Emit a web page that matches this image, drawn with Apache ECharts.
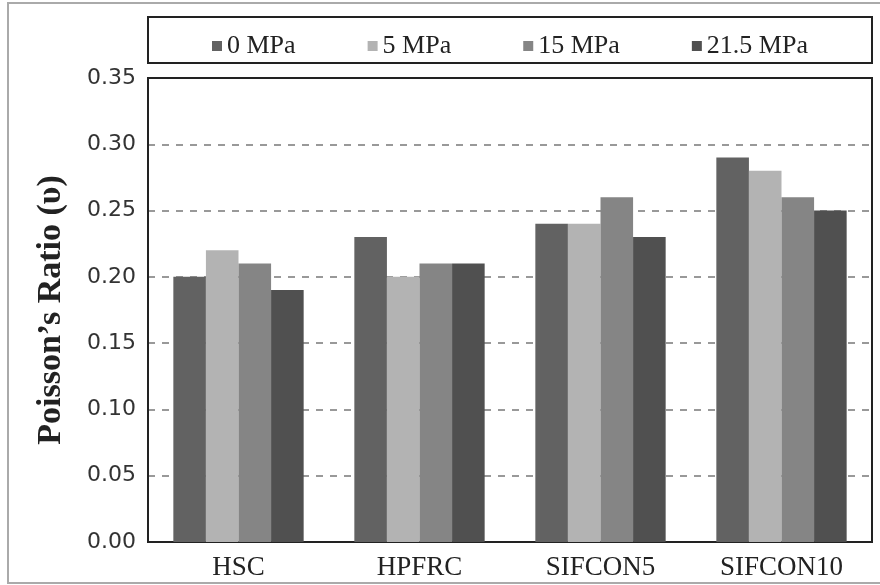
<!DOCTYPE html>
<html>
<head>
<meta charset="utf-8">
<script src="https://cdn.jsdelivr.net/npm/echarts@6/dist/echarts.min.js"></script>
<style>
  html, body { margin: 0; padding: 0; background: #fff; }
  #chart { width: 880px; height: 585px; }
</style>
</head>
<body>
<div id="chart"></div>
<script>
var categories = ['HSC', 'HPFRC', 'SIFCON5', 'SIFCON10'];
var seriesNames = ['0 MPa', '5 MPa', '15 MPa', '21.5 MPa'];
var mpa0 = [0.20, 0.23, 0.24, 0.29];
var mpa5 = [0.22, 0.20, 0.24, 0.28];
var mpa15 = [0.21, 0.21, 0.26, 0.26];
var mpa21_5 = [0.19, 0.21, 0.23, 0.25];
var colors = ['#626262', '#b3b3b3', '#858585', '#505050'];

var serifFont = '"Liberation Serif", "Times New Roman", serif';

var myChart = echarts.init(document.getElementById('chart'));

var seriesData = [mpa0, mpa5, mpa15, mpa21_5];
var series = seriesNames.map(function (name, i) {
    return {
        name: name,
        type: 'bar',
        barGap: 0,
        barCategoryGap: '28%',
        itemStyle: { color: colors[i] },
        data: seriesData[i]
    };
});

var option = {
    animation: false,
    color: colors,
    graphic: [{
        type: 'rect',
        shape: { x: 8, y: 3, width: 900, height: 580 },
        style: { fill: 'none', stroke: '#aaaaaa', lineWidth: 2 },
        silent: true
    }, {
        type: 'rect',
        shape: { x: 148, y: 17, width: 724, height: 46 },
        style: { fill: 'none', stroke: '#222', lineWidth: 2 },
        silent: true
    }],
    legend: {
        left: 207,
        top: 28,
        itemWidth: 10,
        itemHeight: 10,
        itemGap: 72,
        icon: 'rect',
        textStyle: {
            fontFamily: serifFont,
            fontSize: 26,
            color: '#222'
        },
        data: seriesNames
    },
    grid: {
        left: 148,
        right: 8,
        top: 78,
        bottom: 43,
        show: true,
        borderColor: '#222',
        borderWidth: 2
    },
    xAxis: {
        type: 'category',
        data: categories,
        axisTick: { show: false },
        axisLine: { lineStyle: { color: '#222', width: 2 } },
        axisLabel: {
            fontFamily: serifFont,
            fontSize: 27,
            color: '#222',
            margin: 12
        }
    },
    yAxis: {
        type: 'value',
        min: 0,
        max: 0.35,
        interval: 0.05,
        name: 'Poisson\u2019s Ratio (\u03c5)',
        nameLocation: 'middle',
        nameGap: 80,
        nameTextStyle: {
            fontFamily: serifFont,
            fontWeight: 'bold',
            fontSize: 34,
            color: '#222'
        },
        axisLine: { show: true, lineStyle: { color: '#222', width: 2 } },
        axisTick: { show: false },
        axisLabel: {
            fontFamily: 'DejaVu Sans',
            fontSize: 22,
            color: '#333',
            margin: 12,
            formatter: function (v) { return v.toFixed(2); }
        },
        splitLine: {
            showMaxLine: false,
            lineStyle: { color: '#999', width: 2, type: [7, 7] }
        }
    },
    series: series
};

myChart.setOption(option);
</script>
</body>
</html>
